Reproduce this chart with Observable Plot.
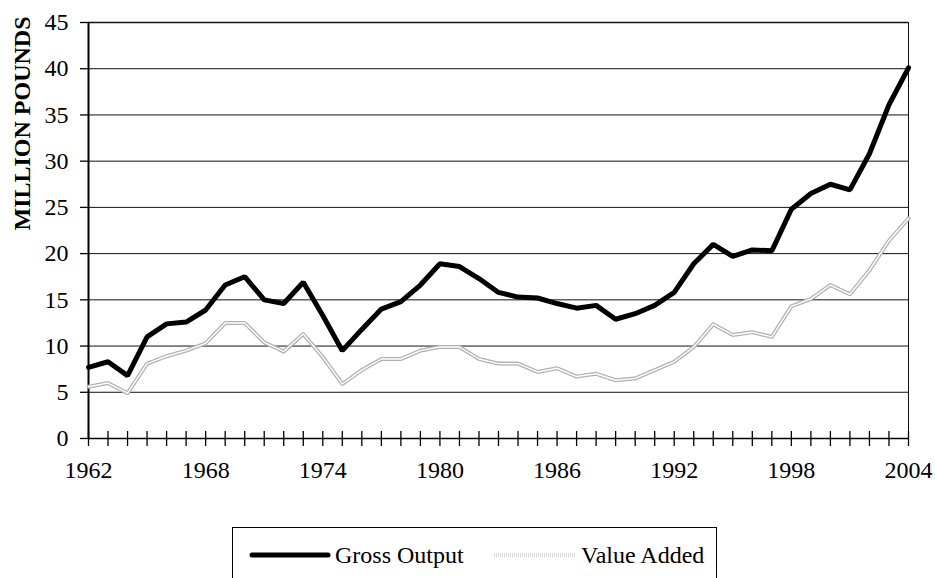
<!DOCTYPE html>
<html>
<head>
<meta charset="utf-8">
<script src="https://cdn.jsdelivr.net/npm/d3@7"></script>
<script src="https://cdn.jsdelivr.net/npm/@observablehq/plot@0.6"></script>
<style>
  html, body { margin: 0; padding: 0; background: #fff; }
  #chart svg { display: block; }
  .legend {
    position: relative; margin-left: 232px; margin-top: 27px; width: 485px; height: 60px;
    border: 1px solid #000; border-bottom: none; box-sizing: border-box;
    font-family: "Liberation Serif", "Times New Roman", Tinos, "DejaVu Serif", "Noto Serif", serif; font-size: 24px; color: #000;
  }
  .legend .item { position: absolute; top: 12px; height: 30px; line-height: 30px; display: flex; align-items: center; white-space: nowrap; }
  .legend svg { display: block; margin-right: 4px; }
</style>
</head>
<body>
<div id="chart"></div>
<script>
const years = [1962,1963,1964,1965,1966,1967,1968,1969,1970,1971,1972,1973,1974,1975,1976,1977,1978,1979,1980,1981,1982,1983,1984,1985,1986,1987,1988,1989,1990,1991,1992,1993,1994,1995,1996,1997,1998,1999,2000,2001,2002,2003,2004];
const grossOutput = [7.7,8.3,6.8,11.0,12.4,12.6,13.9,16.6,17.5,15.0,14.6,16.9,13.3,9.5,11.8,14.0,14.8,16.6,18.9,18.6,17.3,15.8,15.3,15.2,14.6,14.1,14.4,12.9,13.5,14.4,15.8,18.9,21.0,19.7,20.4,20.3,24.8,26.5,27.5,26.9,30.8,36.1,40.1];
const valueAdded = [5.6,6.0,4.9,8.1,8.9,9.5,10.3,12.5,12.5,10.4,9.4,11.3,8.8,5.9,7.4,8.6,8.6,9.5,9.9,9.9,8.6,8.1,8.1,7.2,7.6,6.7,7.0,6.3,6.5,7.4,8.3,9.9,12.35,11.2,11.5,11.0,14.3,15.1,16.6,15.6,18.2,21.4,23.8];
const yTicks = [0,5,10,15,20,25,30,35,40,45];
const gridValues = [5,10,15,20,25,30,35,40];
const xLabelYears = [1962,1968,1974,1980,1986,1992,1998,2004];
const seriesNames = ["Gross Output", "Value Added"];
const yTitle = "MILLION POUNDS";

const gross = years.map((y, i) => ({year: y, value: grossOutput[i]}));
const va = years.map((y, i) => ({year: y, value: valueAdded[i]}));

const FONT = "'Liberation Serif', 'Times New Roman', Tinos, 'DejaVu Serif', 'Noto Serif', serif";

const chart = Plot.plot({
  width: 935,
  height: 500,
  marginLeft: 88,
  marginRight: 27,
  marginTop: 22,
  marginBottom: 62,
  style: {fontFamily: FONT, fontSize: "24px", color: "#000", background: "#fff"},
  x: {domain: [1962, 2004], axis: null, label: null},
  y: {domain: [0, 45], axis: null, label: null},
  marks: [
    Plot.ruleY(gridValues, {stroke: "#111", strokeWidth: 1}),
    Plot.ruleY([45], {stroke: "#111", strokeWidth: 1.5}),
    Plot.ruleX([2004], {stroke: "#111", strokeWidth: 1}),
    Plot.axisX(years, {tickSize: 15, dy: -7, tickFormat: () => "", stroke: "#000", strokeWidth: 1.3, label: null}),
    Plot.axisX(xLabelYears, {tickSize: 0, tickPadding: 22, tickFormat: d => String(d), fontSize: 24, fontFamily: FONT, label: null}),
    Plot.axisY(yTicks, {tickSize: 8, tickPadding: 12, fontSize: 24, fontFamily: FONT, stroke: "#000", strokeWidth: 1.3, label: null}),
    Plot.ruleY([0], {stroke: "#000", strokeWidth: 1.5}),
    Plot.ruleX([1962], {stroke: "#000", strokeWidth: 2}),
    Plot.text([yTitle], {frameAnchor: "left", rotate: -90, dx: -66, fontWeight: "bold", fontSize: 24, fontFamily: FONT}),
    Plot.line(va, {x: "year", y: "value", stroke: "#b2b2b2", strokeWidth: 4, strokeDasharray: "1,1"}),
    Plot.line(va, {x: "year", y: "value", stroke: "#ffffff", strokeWidth: 1.4}),
    Plot.line(gross, {x: "year", y: "value", stroke: "#000", strokeWidth: 5, strokeLinejoin: "miter"})
  ]
});
document.getElementById("chart").appendChild(chart);

const legend = document.createElement("div");
legend.className = "legend";
legend.innerHTML = `
  <div class="item" style="left:16px">
    <svg width="82" height="10"><line x1="3" y1="5" x2="79" y2="5" stroke="#000" stroke-width="5" stroke-linecap="round"/></svg>
    <span>${seriesNames[0]}</span>
  </div>
  <div class="item" style="left:260px">
    <svg width="84" height="10"><line x1="1" y1="5" x2="83" y2="5" stroke="#b2b2b2" stroke-width="3" stroke-dasharray="1,1"/><line x1="1" y1="5" x2="83" y2="5" stroke="#fff" stroke-width="1.1"/></svg>
    <span>${seriesNames[1]}</span>
  </div>`;
document.body.appendChild(legend);
</script>
</body>
</html>
